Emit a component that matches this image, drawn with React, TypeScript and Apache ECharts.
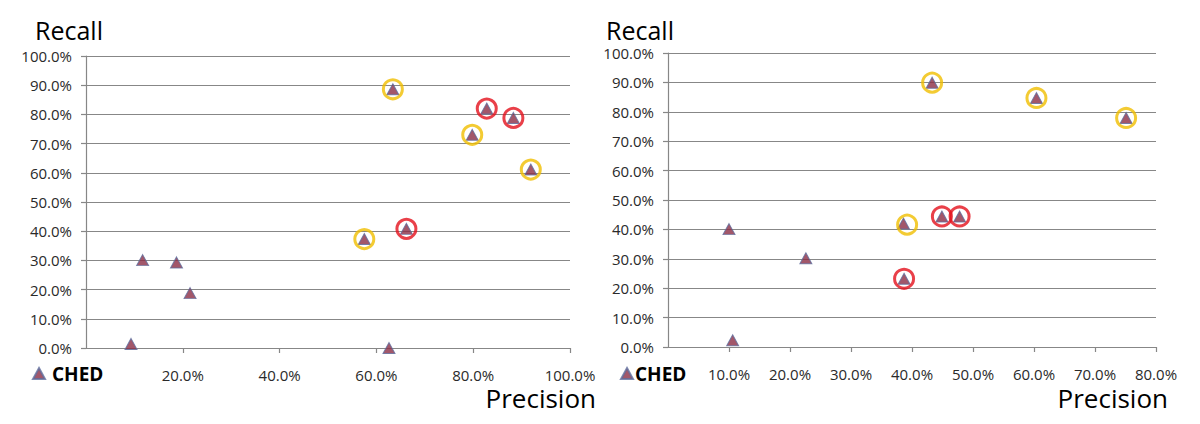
import React, { useEffect, useRef } from "react";
import * as echarts from "echarts";

// Left panel: [precision %, recall %]
const leftPoints: number[][] = [
  [63.4, 88.6], [82.8, 82.0], [88.3, 78.8], [79.8, 73.0], [91.9, 61.1],
  [66.2, 40.8], [57.5, 37.3], [11.7, 30.1], [18.7, 29.3], [21.5, 18.8],
  [9.3, 1.4], [62.6, 0.0],
];
const leftYellow: number[][] = [[63.4, 88.6], [79.8, 73.0], [91.9, 61.1], [57.5, 37.3]];
const leftRed: number[][] = [[82.8, 82.0], [88.3, 78.8], [66.2, 40.8]];

// Right panel: [precision %, recall %]
const rightPoints: number[][] = [
  [43.3, 89.9], [60.4, 84.7], [75.1, 77.9], [10.0, 40.1], [22.6, 30.2],
  [10.6, 2.3], [38.6, 42.0], [44.9, 44.4], [47.8, 44.4], [38.7, 23.2],
];
const rightYellow: number[][] = [[43.3, 89.9], [60.4, 84.7], [75.1, 77.9], [39.2, 41.6]];
const rightRed: number[][] = [[44.9, 44.4], [47.8, 44.4], [38.7, 23.2]];

const leftXMax = 100;
const leftXStep = 20;
const rightXMax = 80;
const rightXStep = 10;
const yMax = 100;
const yStep = 10;

const seriesName = "CHED";
const yTitle = "Recall";
const xTitle = "Precision";

const FONT = "'Open Sans', 'DejaVu Sans', sans-serif";
const GRID_COLOR = "#878787";
const TRI_FILL = "#8B2D45";
const TRI_BORDER = "#5F6E9E";
const YELLOW = "#F0BE00";
const RED = "#E3101B";

const fmt = (v: number) => v.toFixed(1) + "%";

function xAxisCfg(gridIndex: number, max: number, step: number) {
  return {
    type: "value",
    gridIndex,
    min: 0,
    max,
    interval: step,
    axisLine: { show: true, lineStyle: { color: GRID_COLOR, width: 1.2 } },
    axisTick: { show: true, inside: false, length: 5, lineStyle: { color: GRID_COLOR, width: 1.2 } },
    axisLabel: {
      formatter: fmt,
      showMinLabel: false,
      margin: 19,
      fontSize: 15,
      lineHeight: 15,
      fontFamily: FONT,
      color: "#2a2a2a",
    },
    splitLine: { show: false },
  };
}

function yAxisCfg(gridIndex: number) {
  return {
    type: "value",
    gridIndex,
    min: 0,
    max: yMax,
    interval: yStep,
    axisLine: { show: true, lineStyle: { color: GRID_COLOR, width: 1.2 } },
    axisTick: { show: true, length: 5, lineStyle: { color: GRID_COLOR, width: 1.2 } },
    axisLabel: {
      formatter: fmt,
      margin: 14,
      fontSize: 15,
      fontFamily: FONT,
      color: "#2a2a2a",
    },
    splitLine: { show: true, lineStyle: { color: GRID_COLOR, width: 1.2 } },
  };
}

function ring(data: number[][], idx: number, color: string, name: string) {
  return {
    type: "scatter",
    name,
    xAxisIndex: idx,
    yAxisIndex: idx,
    data,
    symbol: "circle",
    symbolSize: 19,
    z: 3,
    itemStyle: { color: "rgba(0,0,0,0)", borderColor: color, borderWidth: 3 },
  };
}

function tri(data: number[][], idx: number) {
  return {
    type: "scatter",
    name: seriesName,
    xAxisIndex: idx,
    yAxisIndex: idx,
    data,
    symbol: "triangle",
    symbolSize: [12, 11],
    z: 2,
    itemStyle: { color: TRI_FILL, borderColor: TRI_BORDER, borderWidth: 1 },
  };
}

export default function App() {
  const ref = useRef<HTMLDivElement>(null);
  useEffect(() => {
    if (!ref.current) return;
    const chart = echarts.init(ref.current, undefined, { renderer: "svg" });
    const titleStyle = { fontFamily: FONT, fontWeight: "normal", color: "#000" };
    chart.setOption({
      animation: false,
      backgroundColor: "#fff",
      title: [
        { text: yTitle, left: 35, top: 17, padding: 0, textStyle: { ...titleStyle, fontSize: 25 } },
        { text: yTitle, left: 606, top: 17, padding: 0, textStyle: { ...titleStyle, fontSize: 25 } },
        { text: xTitle, right: 604, top: 386, padding: 0, textStyle: { ...titleStyle, fontSize: 26, lineHeight: 24 } },
        { text: xTitle, right: 32, top: 386, padding: 0, textStyle: { ...titleStyle, fontSize: 26, lineHeight: 24 } },
      ],
      legend: [
        {
          left: 32,
          top: 364,
          padding: 0,
          itemWidth: 12,
          itemHeight: 11,
          data: [{ name: seriesName, icon: "triangle" }],
          selectedMode: false,
          textStyle: { fontFamily: FONT, fontWeight: "bold", fontSize: 19, color: "#000", padding: [0, 0, 0, 2] },
        },
        {
          left: 620,
          top: 364,
          padding: 0,
          itemWidth: 12,
          itemHeight: 11,
          data: [{ name: seriesName, icon: "triangle" }],
          selectedMode: false,
          textStyle: { fontFamily: FONT, fontWeight: "bold", fontSize: 19, color: "#000", padding: [0, 0, 0, -3] },
        },
      ],
      grid: [
        { left: 86, top: 56, width: 484, height: 292 },
        { left: 668, top: 53, width: 488, height: 294 },
      ],
      xAxis: [xAxisCfg(0, leftXMax, leftXStep), xAxisCfg(1, rightXMax, rightXStep)],
      yAxis: [yAxisCfg(0), yAxisCfg(1)],
      series: [
        tri(leftPoints, 0),
        ring(leftYellow, 0, YELLOW, "leftYellow"),
        ring(leftRed, 0, RED, "leftRed"),
        tri(rightPoints, 1),
        ring(rightYellow, 1, YELLOW, "rightYellow"),
        ring(rightRed, 1, RED, "rightRed"),
      ],
    });
    return () => chart.dispose();
  }, []);
  return (
    <div
      ref={ref}
      style={{ position: "fixed", left: 0, top: 0, width: 1200, height: 424 }}
    />
  );
}
